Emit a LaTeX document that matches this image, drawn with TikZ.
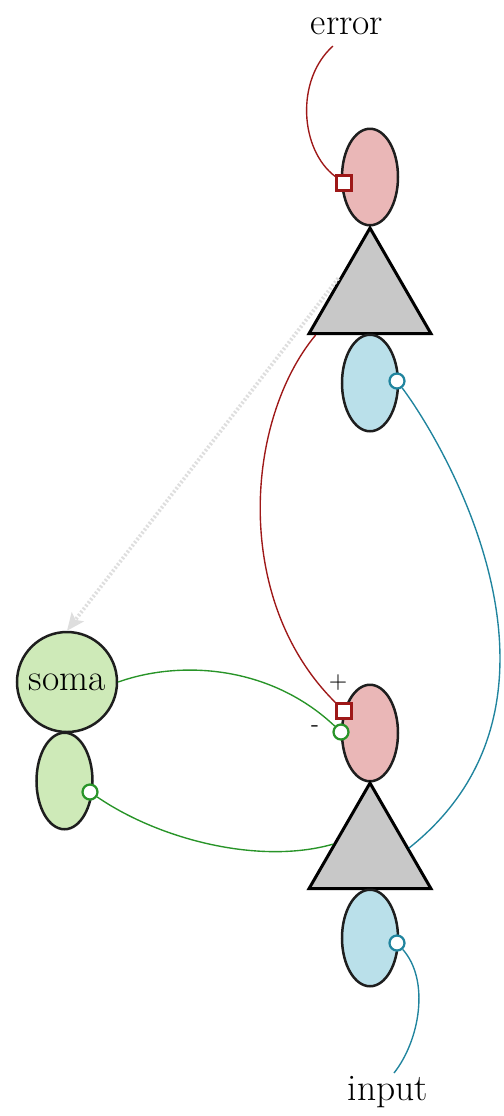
\documentclass[tikz,border=0pt]{standalone}
\usetikzlibrary{shapes.geometric,arrows.meta}
\definecolor{outline}{RGB}{30,30,30}
\definecolor{apicalfill}{RGB}{234,183,183}
\definecolor{basalfill}{RGB}{186,224,234}
\definecolor{interfill}{RGB}{206,234,184}
\definecolor{bodyfill}{RGB}{200,200,200}
\definecolor{errwire}{RGB}{158,24,24}
\definecolor{inwire}{RGB}{32,132,158}
\definecolor{intwire}{RGB}{40,148,40}
\definecolor{teach}{RGB}{222,222,222}
\begin{document}
\begin{tikzpicture}[x=0.4pt,y=-0.4pt,
  cell/.style={ellipse,draw=outline,line width=1pt,minimum width=22.4pt,
    minimum height=38.6pt,inner sep=0pt},
  apical/.style={cell,fill=apicalfill},
  basal/.style={cell,fill=basalfill},
  inter/.style={cell,fill=interfill},
  somabody/.style={circle,draw=outline,line width=1pt,fill=interfill,
    minimum size=40pt,inner sep=0pt,font=\fontsize{15}{18}\selectfont},
  pyramid/.style={regular polygon,regular polygon sides=3,minimum size=56.3pt,
    inner sep=0pt,draw=black,line width=1.2pt,fill=bodyfill},
  sqmark/.style={rectangle,draw=errwire,fill=white,line width=1pt,
    minimum size=6pt,inner sep=0pt},
  cmark/.style={circle,draw=#1,fill=white,line width=0.9pt,
    minimum size=6pt,inner sep=0pt},
  wire/.style={line width=0.55pt},
  word/.style={font=\fontsize{15}{18}\selectfont,inner sep=0pt},
  sign/.style={font=\fontsize{9.5}{11}\selectfont,inner sep=0pt}]
\useasboundingbox (0,0) rectangle (504,1116);

% upper pyramidal neuron
\node[apical] (ap1) at (370,177) {};
\node[pyramid] (tri1) at (370,298.4) {};
\node[basal] (bs1) at (370,383) {};

% lower pyramidal neuron
\node[apical] (ap2) at (370,733) {};
\node[pyramid] (tri2) at (370,853.4) {};
\node[basal] (bs2) at (370,938) {};

% interneuron
\node[somabody] (soma) at (67,682) {soma};
\node[inter] (dend) at (64.5,781) {};

% labels
\node[word] (err) at (347,26) {error};
\node[word] (inp) at (388,1092) {input};
\coordinate (errtail) at (333,46);
\coordinate (inptail) at (394,1073);
\node[sign] (plus) at (338,683) {+};
\node[sign] (minus) at (315,729) {-};

% teaching signal
\draw[teach,line width=1.5pt,dash pattern=on 0.8pt off 0.8pt,shorten <=2.5pt,
  -{Stealth[length=7pt,width=6pt,inset=1.5pt]}] (tri1.138) -- (soma.north);

% synapse markers
\node[sqmark] (sq1) at (344,183) {};
\node[sqmark] (sq2) at (344,711) {};
\node[cmark=inwire] (c1) at (397,381) {};
\node[cmark=inwire] (c2) at (397,943) {};
\node[cmark=intwire] (c3) at (341,732) {};
\node[cmark=intwire] (c4) at (90,792) {};

% connections
\draw[wire,errwire] (errtail) .. controls (295,80) and (300,150) .. (sq1);
\draw[wire,errwire] (tri1.214) .. controls (245,420) and (232,600) .. (sq2);
\draw[wire,inwire] (c1) .. controls (445,445) and (595,700) .. (tri2.8);
\draw[wire,inwire] (c2) .. controls (430,980) and (420,1040) .. (inptail);
\draw[wire,intwire] (soma.east) .. controls (180,660) and (270,665) .. (c3);
\draw[wire,intwire] (c4) .. controls (160,840) and (260,865) .. (tri2.166);
\end{tikzpicture}
\end{document}
